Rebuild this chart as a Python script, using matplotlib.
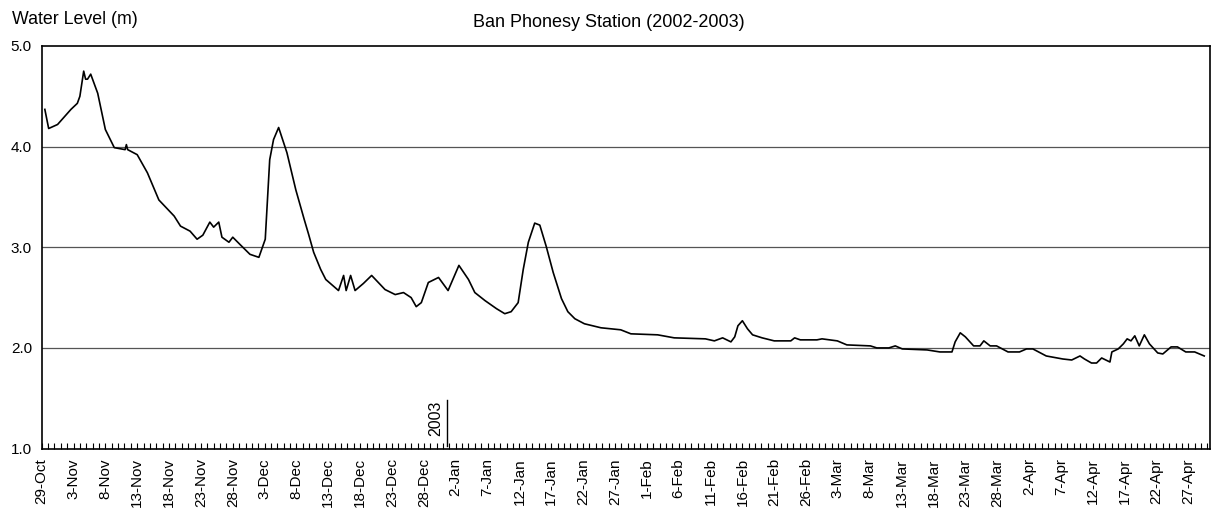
import matplotlib
matplotlib.use("Agg")
import matplotlib.pyplot as plt
from matplotlib.ticker import MultipleLocator
import numpy as np

plt.rcParams['font.family'] = ['Liberation Sans', 'DejaVu Sans']

# days counted from 29-Oct-2002, water level in m
days = [0.5, 1.1, 2.5, 4.6, 5.6, 6.0, 6.6, 6.9, 7.2, 7.7, 8.8, 10.0, 11.4, 13.1, 13.3,
        13.5, 15.0, 16.6, 18.4, 20.8, 21.8, 23.3, 24.4, 25.3, 26.4, 27.0, 27.8, 28.3,
        29.4, 30.0, 31.1, 32.7, 34.1, 35.1, 35.8, 36.4, 37.2, 38.5, 39.9, 41.2, 41.9,
        42.7, 43.8, 44.6, 46.6, 47.4, 47.8, 48.5, 49.2, 50.5, 51.8, 53.9, 55.5, 56.8,
        58.0, 58.8, 59.6, 60.7, 62.3, 63.8, 65.5, 67.0, 68.0, 69.6, 71.4, 72.7, 73.7,
        74.8, 75.6, 76.4, 77.4, 78.2, 79.2, 80.3, 81.6, 82.6, 83.7, 85.2, 87.8, 90.9,
        92.5, 96.7, 99.3, 104.2, 105.6, 106.9, 108.2, 108.8, 109.3, 110.0, 110.8, 111.6,
        113.1, 115.0, 117.6, 118.2, 119.1, 121.7, 122.5, 124.9, 126.4, 130.1, 131.1,
        133.0, 134.0, 135.1, 139.0, 141.0, 142.9, 143.4, 144.2, 145.0, 146.3, 147.3,
        147.9, 148.9, 149.9, 151.7, 153.5, 154.6, 155.6, 157.7, 160.3, 161.7, 163.0,
        163.7, 164.8, 165.6, 166.4, 167.7, 168.0, 169.0, 169.8, 170.4, 171.0, 171.6,
        172.3, 173.1, 173.9, 175.2, 176.0, 177.3, 178.3, 179.6, 181.0, 182.5]
level = [4.37, 4.18, 4.22, 4.37, 4.43, 4.50, 4.75, 4.67, 4.67, 4.72, 4.53, 4.17, 3.99, 3.97, 4.02,
         3.97, 3.92, 3.74, 3.47, 3.31, 3.21, 3.16, 3.08, 3.12, 3.25, 3.20, 3.25, 3.10,
         3.05, 3.10, 3.03, 2.93, 2.90, 3.08, 3.87, 4.07, 4.19, 3.94, 3.57, 3.28, 3.13,
         2.95, 2.78, 2.68, 2.57, 2.72, 2.57, 2.72, 2.57, 2.64, 2.72, 2.58, 2.53, 2.55,
         2.50, 2.41, 2.45, 2.65, 2.70, 2.57, 2.82, 2.68, 2.55, 2.47, 2.39, 2.34, 2.36,
         2.45, 2.78, 3.05, 3.24, 3.22, 3.01, 2.75, 2.49, 2.36, 2.29, 2.24, 2.20, 2.18,
         2.14, 2.13, 2.10, 2.09, 2.07, 2.10, 2.06, 2.11, 2.22, 2.27, 2.19, 2.13,
         2.10, 2.07, 2.07, 2.10, 2.08, 2.08, 2.09, 2.07, 2.03, 2.02, 2.00,
         2.00, 2.02, 1.99, 1.98, 1.96, 1.96, 2.06, 2.15, 2.11, 2.02, 2.02,
         2.07, 2.02, 2.02, 1.96, 1.96, 1.99, 1.99, 1.92, 1.89, 1.88, 1.92,
         1.89, 1.85, 1.85, 1.90, 1.86, 1.96, 1.99, 2.04, 2.09, 2.07, 2.12,
         2.02, 2.13, 2.04, 1.95, 1.94, 2.01, 2.01, 1.96, 1.96, 1.92]

tick_labels = ['29-Oct', '3-Nov', '8-Nov', '13-Nov', '18-Nov', '23-Nov', '28-Nov',
               '3-Dec', '8-Dec', '13-Dec', '18-Dec', '23-Dec', '28-Dec', '2-Jan',
               '7-Jan', '12-Jan', '17-Jan', '22-Jan', '27-Jan', '1-Feb', '6-Feb',
               '11-Feb', '16-Feb', '21-Feb', '26-Feb', '3-Mar', '8-Mar', '13-Mar',
               '18-Mar', '23-Mar', '28-Mar', '2-Apr', '7-Apr', '12-Apr', '17-Apr',
               '22-Apr', '27-Apr']
year_day = 64  # 1-Jan-2003

fig = plt.figure(figsize=(12.18, 5.08), dpi=100)
ax = fig.add_axes([0.0342, 0.117, 0.9592, 0.7925])

ax.plot(days, level, color='black', lw=1.2)

ax.set_xlim(0, 183.4)
ax.set_ylim(1.0, 5.0)
ax.set_yticks([1, 2, 3, 4, 5])
ax.set_yticklabels(['%.1f' % v for v in [1, 2, 3, 4, 5]])
for g in [2, 3, 4]:
    ax.axhline(g, color='#555555', lw=0.9, zorder=0)

ax.set_xticks(np.arange(len(tick_labels)) * 5)
ax.set_xticklabels(tick_labels, rotation=90, ha='center', va='top')
ax.xaxis.set_minor_locator(MultipleLocator(1))
ax.tick_params(axis='x', which='both', direction='in', length=4, width=0.8,
               pad=7, labelsize=11)
ax.tick_params(axis='y', length=0, pad=7, labelsize=11)

for s in ax.spines.values():
    s.set_linewidth(1.2)

# year marker
ax.plot([year_day - 0.4, year_day - 0.4], [1.03, 1.48], color='black', lw=1.0)
ax.text(year_day - 1.0, 1.12, '2003', rotation=90, ha='right', va='bottom', fontsize=11.5)

fig.text(0.0099, 0.962, 'Water Level (m)', ha='left', va='center', fontsize=12.8)
fig.text(0.5, 0.955, 'Ban Phonesy Station (2002-2003)', ha='center', va='center', fontsize=13)

fig.savefig('out.png', dpi=100)
